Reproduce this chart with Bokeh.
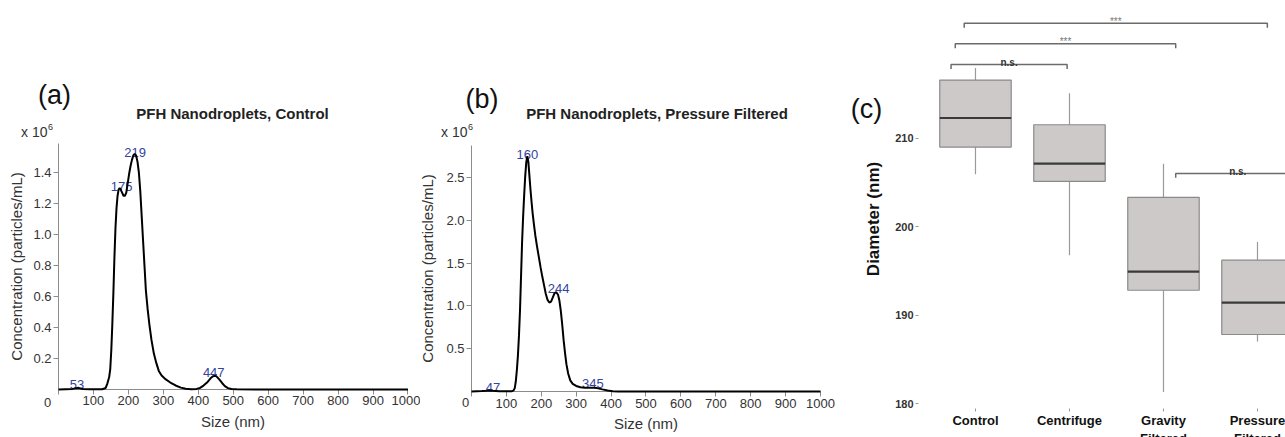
import numpy as np
from bokeh.plotting import figure
from bokeh.layouts import row
from bokeh.models import Label, FixedTicker, Range1d, LinearAxis, PrintfTickFormatter
from bokeh.embed import file_html
from bokeh.resources import INLINE

FONT = "Liberation Sans"
BLUE = "#3343a0"
GREY = "#8c8c8c"

# ---------------- data ----------------
# Panel (a): PFH Nanodroplets, Control (concentration x 10^6 particles/mL)
size_a = [0, 20, 40, 50, 55, 60, 70, 90, 110, 125, 135, 140, 145, 148, 151, 154, 157, 160,
          163, 166, 169, 172, 175, 178, 182, 186, 190, 194, 198, 202, 206, 210, 214, 218,
          222, 226, 230, 234, 238, 242, 246, 250, 255, 260, 266, 273, 280, 287, 295, 307,
          320, 335, 350, 364, 380, 395, 405, 415, 425, 435, 442, 447, 452, 460, 468, 476,
          485, 495, 510, 600, 1000]
conc_a = [0.0, 0.002, 0.004, 0.008, 0.010, 0.008, 0.003, 0.001, 0.001, 0.002, 0.01, 0.04,
          0.08, 0.13, 0.25, 0.42, 0.62, 0.85, 1.04, 1.17, 1.25, 1.29, 1.30, 1.29, 1.27,
          1.25, 1.25, 1.27, 1.33, 1.39, 1.44, 1.48, 1.51, 1.52, 1.51, 1.47, 1.40, 1.28,
          1.12, 0.96, 0.80, 0.64, 0.52, 0.42, 0.32, 0.23, 0.17, 0.12, 0.09, 0.065, 0.045,
          0.026, 0.012, 0.005, 0.002, 0.004, 0.010, 0.025, 0.045, 0.072, 0.085, 0.088,
          0.085, 0.065, 0.042, 0.022, 0.009, 0.003, 0.001, 0.0, 0.0]
peaks_a = [53, 175, 219, 447]

# Panel (b): PFH Nanodroplets, Pressure Filtered
size_b = [0, 30, 45, 50, 60, 80, 100, 115, 120, 124, 127, 130, 133, 136, 139, 142, 145, 148,
          151, 154, 157, 160, 163, 166, 169, 172, 175, 179, 183, 188, 193, 198, 203, 208,
          213, 218, 223, 228, 233, 238, 243, 248, 252, 256, 260, 264, 268, 272, 277, 283,
          290, 300, 312, 325, 340, 350, 360, 375, 390, 405, 420, 450, 1000]
conc_b = [0.0, 0.005, 0.010, 0.012, 0.008, 0.003, 0.002, 0.003, 0.01, 0.04, 0.12, 0.25,
          0.42, 0.65, 0.95, 1.35, 1.75, 2.05, 2.30, 2.52, 2.68, 2.75, 2.68, 2.52, 2.36,
          2.22, 2.09, 1.95, 1.82, 1.69, 1.57, 1.45, 1.34, 1.24, 1.14, 1.07, 1.04, 1.05,
          1.10, 1.15, 1.16, 1.13, 1.06, 0.94, 0.78, 0.60, 0.45, 0.32, 0.21, 0.13, 0.09,
          0.065, 0.05, 0.045, 0.045, 0.045, 0.04, 0.025, 0.012, 0.004, 0.001, 0.0, 0.0]
peaks_b = [47, 160, 244, 345]

x_ticks = list(range(0, 1001, 100))
y_ticks_a = [0.2, 0.4, 0.6, 0.8, 1.0, 1.2, 1.4]
y_ticks_b = [0.5, 1.0, 1.5, 2.0, 2.5]

# Panel (c): box plot of diameters
groups = ["Control", "Centrifuge", "Gravity\nFiltered", "Pressure\nFiltered"]
whisker_low = [205.9, 196.75, 181.3, 187.0]
q1 = [208.98, 205.1, 192.8, 187.8]
median = [212.26, 207.1, 194.9, 191.4]
q3 = [216.55, 211.5, 203.3, 196.2]
whisker_high = [217.9, 215.05, 207.1, 198.25]
c_ticks = [180, 190, 200, 210]
sig_labels = ["n.s.", "***", "***", "n.s."]

H = 437


def screen_label(p, sx, sy, text, size, align="center", style="normal", color="#222222"):
    p.add_layout(Label(x=sx, y=sy, x_units="screen", y_units="screen", text=text,
                       text_align=align, text_baseline="middle", text_font=FONT,
                       text_font_size=size, text_font_style=style, text_color=color))


def line_panel(size, conc, peaks, peak_dx, peak_dy, width, xr, yr, ybound, yticks, ylab_standoff,
               title, title_pos, letter, letter_pos, exp_pos, zero_pos):
    p = figure(width=width, height=H, x_range=Range1d(*xr), y_range=Range1d(*yr),
               output_backend="svg", toolbar_location=None, title=None,
               x_axis_location=None, y_axis_location=None,
               min_border_left=0, min_border_right=0, min_border_top=0, min_border_bottom=0)
    p.xgrid.grid_line_color = None
    p.ygrid.grid_line_color = None
    p.outline_line_color = None
    p.background_fill_color = None
    p.border_fill_color = None

    xax = LinearAxis(fixed_location=0, bounds=(0, 1000), ticker=FixedTicker(ticks=x_ticks),
                     axis_label="Size (nm)")
    yax = LinearAxis(fixed_location=0, bounds=(0, ybound), ticker=FixedTicker(ticks=yticks),
                     formatter=PrintfTickFormatter(format="%.1f"),
                     axis_label="Concentration (particles/mL)")
    for ax in (xax, yax):
        ax.axis_line_color = GREY
        ax.major_tick_line_color = GREY
        ax.minor_tick_line_color = None
        ax.major_tick_out = 5
        ax.major_tick_in = 0
        ax.major_label_standoff = 2
        ax.major_label_text_font = FONT
        ax.major_label_text_font_size = "13px"
        ax.major_label_text_color = "#333333"
        ax.axis_label_text_font = FONT
        ax.axis_label_text_font_size = "15px"
        ax.axis_label_text_font_style = "normal"
        ax.axis_label_text_color = "#333333"
    xax.major_label_overrides = {0: ""}
    xax.axis_label_standoff = 4
    yax.axis_label_standoff = ylab_standoff
    p.add_layout(xax, "below")
    p.add_layout(yax, "left")

    r = p.line(size, conc, line_color="black", line_width=2)
    r.level = "overlay"

    for pk, dx, dy in zip(peaks, peak_dx, peak_dy):
        yv = float(np.interp(pk, size, conc))
        p.add_layout(Label(x=pk, y=yv, x_offset=dx, y_offset=dy, text=str(pk),
                           text_align="center", text_baseline="alphabetic", text_font=FONT,
                           text_font_size="13px", text_color=BLUE))
    screen_label(p, title_pos[0], title_pos[1], title, "15px", style="bold")
    screen_label(p, letter_pos[0], letter_pos[1], letter, "27px", color="#111111")
    screen_label(p, exp_pos[0], exp_pos[1], "x 10", "14px", align="right", color="#333333")
    screen_label(p, exp_pos[0] + 0.5, exp_pos[1] + 5, "6", "9px", align="left", color="#333333")
    screen_label(p, zero_pos[0], zero_pos[1], "0", "13px", color="#333333")
    return p


fa = line_panel(size_a, conc_a, peaks_a, [0, 2, 0, -1], [4, 2, 2, 3], 420,
                (-165.95, 1035.8), (-0.3097, 2.5097), 1.587,
                y_ticks_a, 5, "PFH Nanodroplets, Control", (232, 324), "(a)", (54, 343),
                (47, 306), (47, 35))
fb = line_panel(size_b, conc_b, peaks_b, [5, 0, 2, 1], [3, 2, 4, 4], 420,
                (-146.1, 1057.3), (-0.537, 4.568), 2.874,
                y_ticks_b, 7, "PFH Nanodroplets, Pressure Filtered", (236.5, 324), "(b)",
                (61.5, 339), (47, 306), (45, 35))

# ---------------- panel (c) ----------------
fc = figure(width=445, height=H, x_range=Range1d(-0.436, 4.298), y_range=Range1d(176.16, 225.54),
            output_backend="svg", toolbar_location=None, title=None,
            x_axis_location=None, y_axis_location=None,
            min_border_left=0, min_border_right=0, min_border_top=0, min_border_bottom=0)
fc.xgrid.grid_line_color = None
fc.ygrid.grid_line_color = None
fc.outline_line_color = None

pos = [i + 1 for i in range(len(groups))]
half = 0.38
fc.segment(x0=pos, y0=q3, x1=pos, y1=whisker_high, line_color="#9a9a9a", line_width=1.2)
fc.segment(x0=pos, y0=q1, x1=pos, y1=whisker_low, line_color="#9a9a9a", line_width=1.2)
fc.quad(left=[x - half for x in pos], right=[x + half for x in pos], bottom=q1, top=q3,
        fill_color="#cdc9c9", line_color="#8a8a8a", line_width=1.2)
fc.segment(x0=[x - half for x in pos], x1=[x + half for x in pos], y0=median, y1=median,
           line_color="#3a3a3a", line_width=2.2)

# significance brackets (layout only)
bracket_x0 = [0.74, 0.785, 0.88, 3.13]
bracket_x1 = [1.975, 3.13, 4.105, 4.45]
bracket_y = [218.3, 220.65, 222.97, 206.0]
tip = 0.5
xs, ys = [], []
for x0, x1, yb in zip(bracket_x0, bracket_x1, bracket_y):
    xs.append([x0, x0, x1, x1])
    ys.append([yb - tip, yb, yb, yb - tip])
fc.multi_line(xs, ys, line_color="#6b6b6b", line_width=1.5)
for x0, x1, yb, lab in zip(bracket_x0, bracket_x1, bracket_y, sig_labels):
    star = lab == "***"
    fc.add_layout(Label(x=(x0 + x1) / 2, y=yb, y_offset=2, text=lab,
                        text_align="center", text_baseline="alphabetic", text_font=FONT,
                        text_font_size="10px" if star else "10px",
                        text_font_style="normal" if star else "bold",
                        text_color="#777777" if star else "#333333"))

cy = LinearAxis(fixed_location=0.394, ticker=FixedTicker(ticks=c_ticks), axis_label="Diameter (nm)")
cy.axis_line_color = None
cy.major_tick_line_color = "#999999"
cy.major_tick_out = 3
cy.major_tick_in = 0
cy.minor_tick_line_color = None
cy.major_label_standoff = 2
cy.major_label_text_font = FONT
cy.major_label_text_font_size = "11px"
cy.major_label_text_font_style = "bold"
cy.major_label_text_color = "#333333"
cy.axis_label_text_font = FONT
cy.axis_label_text_font_size = "17px"
cy.axis_label_text_font_style = "bold"
cy.axis_label_text_color = "#111111"
cy.axis_label_standoff = 9
fc.add_layout(cy, "left")

cx = LinearAxis(fixed_location=179.435, ticker=FixedTicker(ticks=pos))
cx.major_label_overrides = {x: g for x, g in zip(pos, groups)}
cx.axis_line_color = None
cx.major_tick_line_color = "#999999"
cx.major_tick_out = 3
cx.major_tick_in = 0
cx.minor_tick_line_color = None
cx.major_label_standoff = 1
cx.major_label_text_font = FONT
cx.major_label_text_font_size = "13px"
cx.major_label_text_font_style = "bold"
cx.major_label_text_color = "#111111"
fc.add_layout(cx, "below")

screen_label(fc, 26, 329, "(c)", "27px", color="#111111")

layout = row(fa, fb, fc)
open("out.html", "w").write(file_html(layout, INLINE))
